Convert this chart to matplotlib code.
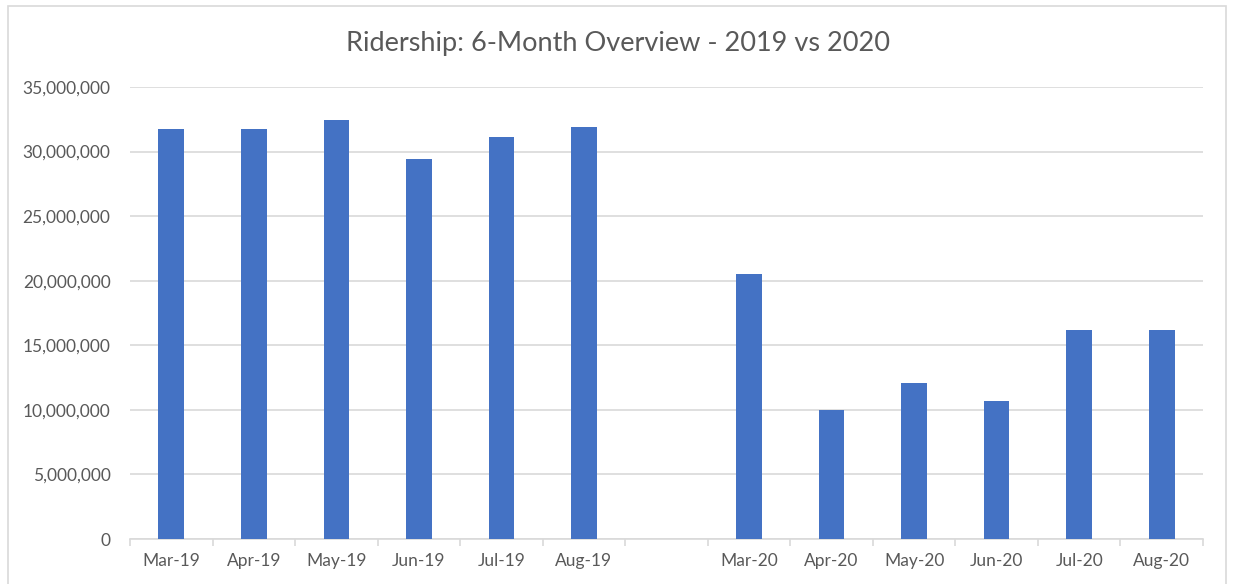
import matplotlib.pyplot as plt
from matplotlib.patches import Rectangle
from matplotlib.ticker import FuncFormatter, FixedLocator
import numpy as np

months = ["Mar-19", "Apr-19", "May-19", "Jun-19", "Jul-19", "Aug-19", "",
          "Mar-20", "Apr-20", "May-20", "Jun-20", "Jul-20", "Aug-20"]
riders = [31770000, 31720000, 32420000, 29420000, 31100000, 31900000, 0,
          20520000, 10000000, 12070000, 10650000, 16160000, 16190000]

plt.rcParams['font.family'] = ['Lato', 'DejaVu Sans']
txt = "#595959"
grid = "#d9d9d9"

fig = plt.figure(figsize=(12.36, 5.84), dpi=100)
ax = fig.add_axes([130 / 1236, 1 - 539 / 584, 1073 / 1236, 452 / 584])

x = np.arange(len(months))
ax.bar(x, riders, width=0.31, color="#4472c4", zorder=3)

ax.set_xlim(-0.5, len(months) - 0.5)
ax.set_ylim(0, 35000000)
ax.set_yticks(np.arange(0, 35000001, 5000000))
ax.yaxis.set_major_formatter(FuncFormatter(lambda v, p: f"{int(v):,}"))
ax.grid(axis="y", color=grid, linewidth=1.2, zorder=0)

ax.set_xticks(x)
ax.set_xticklabels(months)
ax.xaxis.set_minor_locator(FixedLocator(np.arange(-0.5, len(months), 1)))
ax.tick_params(axis="x", which="major", length=0, pad=10, labelsize=12.5, labelcolor=txt)
ax.tick_params(axis="x", which="minor", length=5, color=grid, width=1.2)
ax.tick_params(axis="y", length=0, pad=14, labelsize=12.5, labelcolor=txt)

for s in ["top", "right", "left"]:
    ax.spines[s].set_visible(False)
ax.spines["bottom"].set_color(grid)
ax.spines["bottom"].set_linewidth(1.2)

fig.text(0.5, 1 - 43 / 584, "Ridership: 6-Month Overview - 2019 vs 2020",
         ha="center", va="center", fontsize=19.5, color=txt)

fig.patches.append(Rectangle((8 / 1236, -0.05), 1218 / 1236, 1 - 6 / 584 + 0.05,
                             transform=fig.transFigure, fill=False,
                             edgecolor=grid, linewidth=1.2))

plt.savefig("out.png", dpi=100)
